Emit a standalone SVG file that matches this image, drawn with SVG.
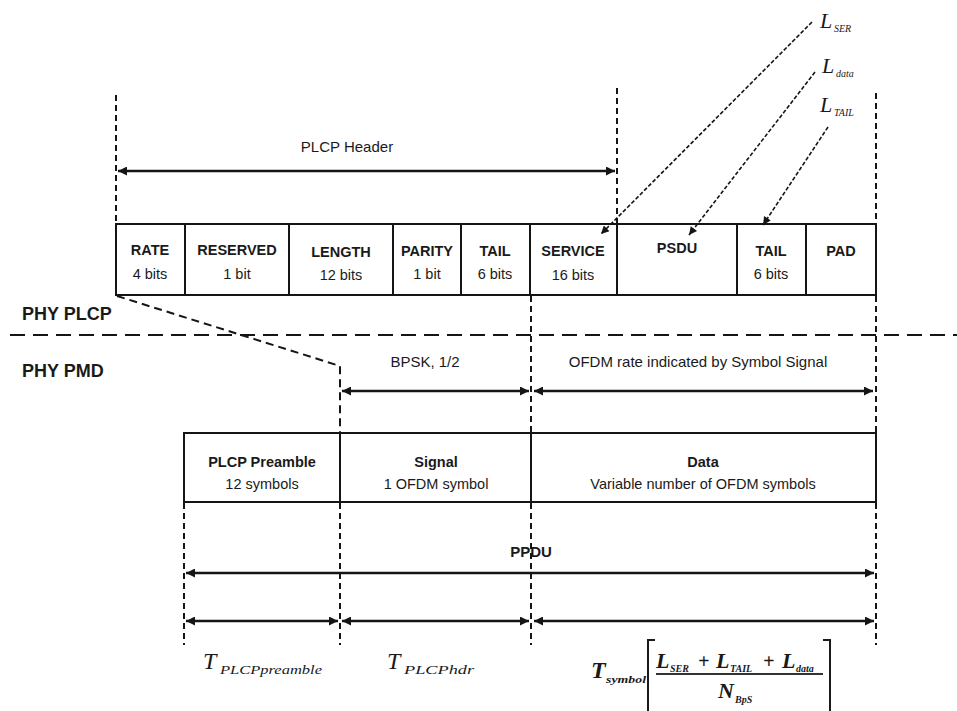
<svg xmlns="http://www.w3.org/2000/svg" width="957" height="711" viewBox="0 0 957 711">
<style>
.bg{fill:#fff}
.box{fill:#fff;stroke:#151515;stroke-width:2}
.vd{fill:none;stroke:#151515;stroke-width:2;stroke-dasharray:6 4}
.hd{fill:none;stroke:#151515;stroke-width:2;stroke-dasharray:15 8}
.ld{fill:none;stroke:#151515;stroke-width:1.6;stroke-dasharray:4 2}
.dg{fill:none;stroke:#151515;stroke-width:2;stroke-dasharray:8 5}
.arr{fill:none;stroke:#151515;stroke-width:2.5;marker-start:url(#ah);marker-end:url(#ah)}
.t1{font-family:"Liberation Sans",Arial,sans-serif;font-size:14.5px;font-weight:bold;fill:#1a1a1a;text-anchor:middle}
.t2{font-family:"Liberation Sans",Arial,sans-serif;font-size:14.5px;fill:#1a1a1a;text-anchor:middle}
.t3{font-family:"Liberation Sans",Arial,sans-serif;font-size:15px;fill:#1a1a1a;text-anchor:middle}
.ph{font-family:"Liberation Sans",Arial,sans-serif;font-size:18px;font-weight:bold;fill:#1a1a1a}
.mi{font-family:"Liberation Serif","Times New Roman",serif;font-style:italic;fill:#1a1a1a}
.fb{font-weight:bold}
.br{fill:none;stroke:#1a1a1a;stroke-width:2}
</style>
<defs>
<marker id="ah" viewBox="0 0 10 10" refX="10" refY="5" markerWidth="12" markerHeight="9" markerUnits="userSpaceOnUse" orient="auto-start-reverse"><path d="M0,0 L10,5 L0,10 z" fill="#151515"/></marker>
<marker id="sh" viewBox="0 0 10 10" refX="10" refY="5" markerWidth="11" markerHeight="8" markerUnits="userSpaceOnUse" orient="auto"><path d="M0,0 L10,5 L0,10 z" fill="#151515"/></marker>
</defs>
<rect class="bg" x="0" y="0" width="957" height="711"/>

<g id="plcp-header-label"><text class="t3" x="347" y="152">PLCP Header</text></g>

<g id="f-rate"><rect class="box" x="116" y="224" width="69" height="71"/><text class="t1" x="150" y="255">RATE</text><text class="t2" x="150" y="279">4 bits</text></g>
<g id="f-reserved"><rect class="box" x="185" y="224" width="104" height="71"/><text class="t1" x="237" y="255">RESERVED</text><text class="t2" x="237" y="279">1 bit</text></g>
<g id="f-length"><rect class="box" x="289" y="224" width="104" height="71"/><text class="t1" x="341" y="257">LENGTH</text><text class="t2" x="341" y="280">12 bits</text></g>
<g id="f-parity"><rect class="box" x="393" y="224" width="68" height="71"/><text class="t1" x="427" y="256">PARITY</text><text class="t2" x="427" y="279">1 bit</text></g>
<g id="f-tail1"><rect class="box" x="461" y="224" width="69" height="71"/><text class="t1" x="495" y="256">TAIL</text><text class="t2" x="495" y="279">6 bits</text></g>
<g id="f-service"><rect class="box" x="530" y="224" width="87" height="71"/><text class="t1" x="573" y="256">SERVICE</text><text class="t2" x="573" y="280">16 bits</text></g>
<g id="f-psdu"><rect class="box" x="617" y="224" width="120" height="71"/><text class="t1" x="677" y="253">PSDU</text></g>
<g id="f-tail2"><rect class="box" x="737" y="224" width="69" height="71"/><text class="t1" x="771" y="256">TAIL</text><text class="t2" x="771" y="279">6 bits</text></g>
<g id="f-pad"><rect class="box" x="806" y="224" width="70" height="71"/><text class="t1" x="841" y="256">PAD</text></g>

<g id="phy-plcp"><text class="ph" x="22" y="320">PHY PLCP</text></g>
<g id="phy-pmd"><text class="ph" x="22" y="377">PHY PMD</text></g>

<g id="bpsk-label"><text class="t3" x="425" y="367">BPSK, 1/2</text></g>
<g id="ofdm-label"><text class="t3" x="698" y="367">OFDM rate indicated by Symbol Signal</text></g>

<g id="preamble"><rect class="box" x="184" y="433" width="156" height="69"/><text class="t1" x="262" y="467">PLCP Preamble</text><text class="t2" x="262" y="489">12 symbols</text></g>
<g id="signal"><rect class="box" x="340" y="433" width="191" height="69"/><text class="t1" x="436" y="467">Signal</text><text class="t2" x="436" y="489">1 OFDM symbol</text></g>
<g id="data"><rect class="box" x="531" y="433" width="345" height="69"/><text class="t1" x="703" y="467">Data</text><text class="t2" x="703" y="489">Variable number of OFDM symbols</text></g>

<g id="ppdu-label"><text class="t1" x="531" y="557" style="font-size:15px">PPDU</text></g>

<g id="l-ser"><text class="mi" x="820" y="28" font-size="22">L</text><text class="mi" x="834" y="32" font-size="10">SER</text></g>
<g id="l-data"><text class="mi" x="822" y="73" font-size="22">L</text><text class="mi" x="836" y="77" font-size="10">data</text></g>
<g id="l-tail"><text class="mi" x="820" y="112" font-size="22">L</text><text class="mi" x="834" y="116" font-size="10">TAIL</text></g>

<g id="t-preamble"><text class="mi" x="203" y="669" font-size="24">T</text><text class="mi" x="220" y="674" font-size="12" textLength="102" lengthAdjust="spacingAndGlyphs">PLCPpreamble</text></g>
<g id="t-hdr"><text class="mi" x="387" y="669" font-size="24">T</text><text class="mi" x="404" y="674" font-size="12" textLength="70" lengthAdjust="spacingAndGlyphs">PLCPhdr</text></g>
<g id="t-data">
  <text class="mi fb" x="591" y="678" font-size="24">T</text>
  <text class="mi fb" x="606" y="683" font-size="10" textLength="40" lengthAdjust="spacingAndGlyphs">symbol</text>
  <path class="br" d="M655,640 H648 V711"/>
  <path class="br" d="M823,640 H830 V711"/>
  <text class="mi fb" x="656" y="668" font-size="22">L</text><text class="mi fb" x="670" y="672" font-size="10">SER</text>
  <text class="mi fb" x="698" y="668" font-size="20">+</text>
  <text class="mi fb" x="716" y="668" font-size="22">L</text><text class="mi fb" x="730" y="672" font-size="10">TAIL</text>
  <text class="mi fb" x="763" y="668" font-size="20">+</text>
  <text class="mi fb" x="782" y="668" font-size="22">L</text><text class="mi fb" x="796" y="672" font-size="10">data</text>
  <line x1="656" y1="674" x2="823" y2="674" stroke="#333" stroke-width="2"/>
  <text class="mi fb" x="718" y="698" font-size="22">N</text><text class="mi fb" x="735" y="703" font-size="10">BpS</text>
</g>

<g id="connectors">
  <path class="vd" d="M116,95 V224"/>
  <path class="vd" d="M617,88 V224"/>
  <path class="vd" d="M876,93 V224"/>
  <path class="vd" d="M531,296 V433"/>
  <path class="vd" d="M876,296 V433"/>
  <path class="dg" d="M117,296 L340,366 V433"/>
  <path class="vd" d="M184,503 V645"/>
  <path class="vd" d="M340,503 V645"/>
  <path class="vd" d="M531,503 V645"/>
  <path class="vd" d="M876,503 V645"/>
  <path class="hd" d="M10,335 H957"/>
  <line class="arr" x1="118" y1="171" x2="615" y2="171"/>
  <line class="arr" x1="342" y1="391" x2="529" y2="391"/>
  <line class="arr" x1="534" y1="391" x2="873" y2="391"/>
  <line class="arr" x1="186" y1="573" x2="874" y2="573"/>
  <line class="arr" x1="186" y1="621" x2="338" y2="621"/>
  <line class="arr" x1="342" y1="621" x2="529" y2="621"/>
  <line class="arr" x1="534" y1="621" x2="874" y2="621"/>
  <line class="ld" x1="812" y1="22" x2="601" y2="234" style="marker-end:url(#sh)"/>
  <line class="ld" x1="815" y1="72" x2="689" y2="235" style="marker-end:url(#sh)"/>
  <line class="ld" x1="828" y1="127" x2="763" y2="225" style="marker-end:url(#sh)"/>
</g>
</svg>
